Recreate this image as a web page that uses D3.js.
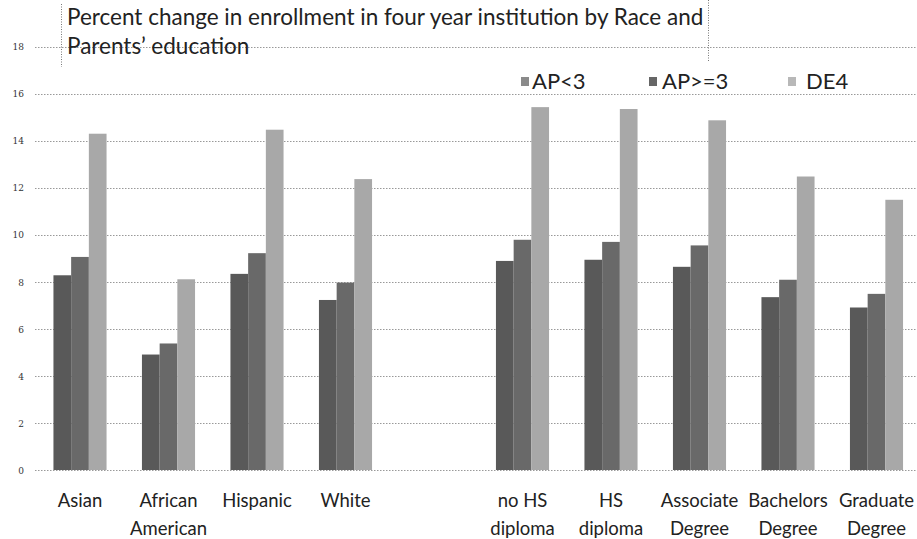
<!DOCTYPE html>
<html>
<head>
<meta charset="utf-8">
<script src="https://cdn.jsdelivr.net/npm/d3@7/dist/d3.min.js"></script>
<style>
  html, body { margin: 0; padding: 0; background: #fff; }
  svg { display: block; }
</style>
</head>
<body>
<svg id="chart" width="917" height="539"></svg>
<script>
// ---- data ----
const categories = ["Asian", "African American", "Hispanic", "White", "", "no HS diploma", "HS diploma", "Associate Degree", "Bachelors Degree", "Graduate Degree"];
const categoryLines = [["Asian"], ["African", "American"], ["Hispanic"], ["White"], [], ["no HS", "diploma"], ["HS", "diploma"], ["Associate", "Degree"], ["Bachelors", "Degree"], ["Graduate", "Degree"]];
const seriesNames = ["AP<3", "AP>=3", "DE4"];
const apLess3  = [8.28, 4.91, 8.34, 7.23, null, 8.89, 8.94, 8.64, 7.35, 6.91];
const apGe3    = [9.06, 5.38, 9.22, 7.97, null, 9.79, 9.70, 9.55, 8.09, 7.49];
const de4      = [14.30, 8.11, 14.47, 12.37, null, 15.43, 15.35, 14.87, 12.48, 11.49];
const yTicks = [0, 2, 4, 6, 8, 10, 12, 14, 16, 18];
const titleLines = ["Percent change in enrollment in four year institution by Race and", "Parents\u2019 education"];

const seriesValues = [apLess3, apGe3, de4];
const colors = ["#595959", "#696969", "#a8a8a8"];
const legendColors = ["#8a8a8a", "#666666", "#b8b8b8"];

const svg = d3.select("#chart");

const keys = categories.map((c, i) => c === "" ? "__gap" + i : c);
const x = d3.scaleBand().domain(keys).range([35.75, 920.75]).paddingInner(0.4).paddingOuter(0.2);
const xs = d3.scaleBand().domain(seriesNames).range([0, x.bandwidth()]).padding(0);
const y = d3.scaleLinear().domain([0, 18]).range([470, 46.7]);

// gridlines
const grid = svg.append("g");
grid.selectAll("line").data(yTicks).join("line")
  .attr("x1", 35).attr("x2", 917)
  .attr("y1", d => Math.round(y(d)) + 0.5).attr("y2", d => Math.round(y(d)) + 0.5)
  .attr("stroke", "#999").attr("stroke-width", 1).attr("stroke-dasharray", "1.5,1.5");

// y axis labels
const yAxis = d3.axisLeft(y).tickValues(yTicks).tickSize(0).tickPadding(0).tickFormat(d3.format("d"));
const yg = svg.append("g").attr("transform", "translate(24,0)").call(yAxis);
yg.select(".domain").remove();
yg.selectAll("text").attr("font-family", "'DejaVu Serif', 'Liberation Serif', serif")
  .attr("font-size", 9).attr("fill", "#333").attr("dy", "0.35em");

// bars
const rows = [];
categories.forEach((c, i) => {
  seriesNames.forEach((s, j) => {
    const v = seriesValues[j][i];
    if (v !== null && v !== undefined) rows.push({ key: keys[i], s, j, v });
  });
});
svg.append("g").selectAll("rect").data(rows).join("rect")
  .attr("x", d => x(d.key) + xs(d.s))
  .attr("width", xs.bandwidth())
  .attr("y", d => y(d.v))
  .attr("height", d => y(0) - y(d.v))
  .attr("fill", d => colors[d.j]);

// x labels
const xl = svg.append("g");
categories.forEach((c, i) => {
  const cx = x(keys[i]) + x.bandwidth() / 2;
  const t = xl.append("text").attr("text-anchor", "middle")
    .attr("font-family", "Lato, 'Open Sans', sans-serif").attr("font-size", 18.5).attr("fill", "#222");
  categoryLines[i].forEach((ln, k) => {
    t.append("tspan").attr("x", cx).attr("y", 507 + k * 28).text(ln);
  });
});

// title
const tg = svg.append("g");
titleLines.forEach((ln, k) => {
  tg.append("text").attr("x", 67).attr("y", 25 + k * 29)
    .attr("font-family", "Lato, 'Open Sans', sans-serif").attr("font-size", 22.5).attr("fill", "#222")
    .text(ln);
});
// title box dotted edges
tg.append("line").attr("x1", 61.5).attr("x2", 61.5).attr("y1", 4).attr("y2", 67)
  .attr("stroke", "#777").attr("stroke-dasharray", "1,1.5");
tg.append("line").attr("x1", 708.5).attr("x2", 708.5).attr("y1", 0).attr("y2", 62)
  .attr("stroke", "#777").attr("stroke-dasharray", "1,1.5");

// legend
const legendX = [521, 649, 788];
const legendTextX = [532, 662, 806];
const lg = svg.append("g");
seriesNames.forEach((s, j) => {
  lg.append("rect").attr("x", legendX[j]).attr("y", 77).attr("width", 8).attr("height", 9)
    .attr("fill", legendColors[j]);
  lg.append("text").attr("x", legendTextX[j]).attr("y", 89)
    .attr("font-family", "Lato, 'Open Sans', sans-serif").attr("font-size", 22).attr("fill", "#222")
    .text(s);
});
</script>
</body>
</html>
